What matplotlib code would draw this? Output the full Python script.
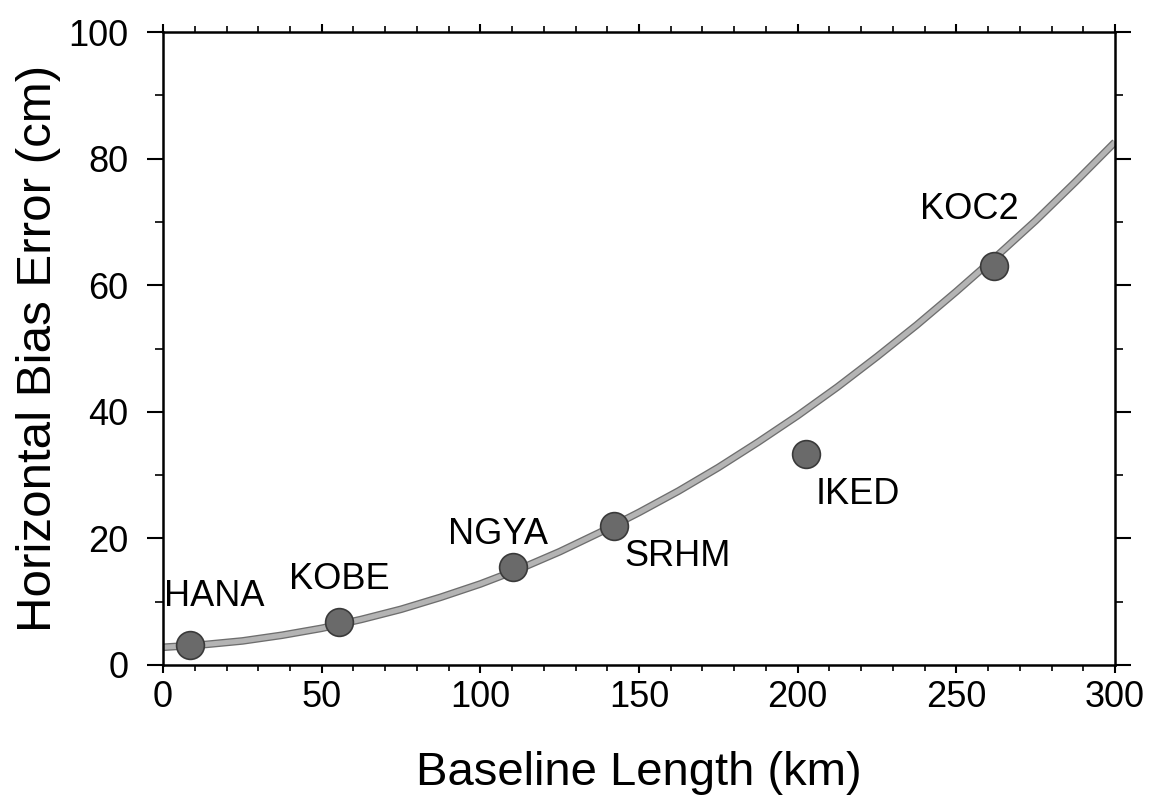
import matplotlib
matplotlib.use("Agg")
import matplotlib.pyplot as plt
import matplotlib.patheffects as pe
from matplotlib.ticker import MultipleLocator

plt.rcParams['font.family'] = ['Liberation Sans', 'DejaVu Sans']

# Stations (baseline length km, horizontal bias error cm)
stations = ["HANA", "KOBE", "NGYA", "SRHM", "IKED", "KOC2"]
station_x = [8.5, 55.5, 110.3, 142.1, 202.6, 262.0]
station_y = [3.2, 6.8, 15.5, 22.0, 33.3, 63.0]
# label positions (data coords)
label_x = [16.0, 55.5, 105.5, 162.0, 219.0, 254.0]
label_y = [10.8, 13.5, 20.6, 17.1, 27.0, 71.9]

# Fitted curve
curve_x = [0, 12.5, 25, 37.5, 50, 62.5, 75, 87.5, 100, 112.5, 125, 137.5, 150,
           162.5, 175, 187.5, 200, 212.5, 225, 237.5, 250, 262.5, 275, 287.5, 300]
curve_y = [2.8, 3.2, 3.8, 4.7, 5.8, 7.2, 8.8, 10.7, 12.8, 15.2, 17.9, 20.9, 24.1,
           27.5, 31.2, 35.2, 39.4, 43.9, 48.7, 53.7, 59.0, 64.5, 70.2, 76.3, 82.6]

fig = plt.figure(figsize=(11.49, 8.0), dpi=100)
ax = fig.add_axes([0.1419, 0.16875, 0.8285, 0.79125])

ax.plot(curve_x, curve_y, color='#b4b4b4', lw=3.6, solid_capstyle='butt',
        path_effects=[pe.Stroke(linewidth=5.5, foreground='#6e6e6e'), pe.Normal()], zorder=2)
ax.plot(station_x, station_y, 'o', ms=20, mfc='#6a6a6a', mec='#3a3a3a', mew=1.2, zorder=3)

for name, lx, ly in zip(stations, label_x, label_y):
    ax.text(lx, ly, name, fontsize=26, ha='center', va='center', color='black')

ax.set_xlim(0, 300)
ax.set_ylim(0, 100)
ax.xaxis.set_major_locator(MultipleLocator(50))
ax.xaxis.set_minor_locator(MultipleLocator(10))
ax.yaxis.set_major_locator(MultipleLocator(20))
ax.yaxis.set_minor_locator(MultipleLocator(10))
ax.tick_params(which='both', direction='out', top=True, right=True,
               labeltop=False, labelright=False, colors='black')
ax.tick_params(axis='x', which='major', length=6, width=1.5, labelsize=26, pad=5)
ax.tick_params(axis='x', which='minor', length=4, width=1.2)
ax.tick_params(axis='y', which='major', length=11.5, width=1.5, labelsize=26, pad=13.5)
ax.tick_params(axis='y', which='minor', length=5.5, width=1.2)
for s in ax.spines.values():
    s.set_linewidth(1.8)

ax.set_xlabel("Baseline Length (km)", fontsize=34, labelpad=26)
ax.set_ylabel("Horizontal Bias Error (cm)", fontsize=35.5, labelpad=5)

fig.savefig("out.png", dpi=100)
